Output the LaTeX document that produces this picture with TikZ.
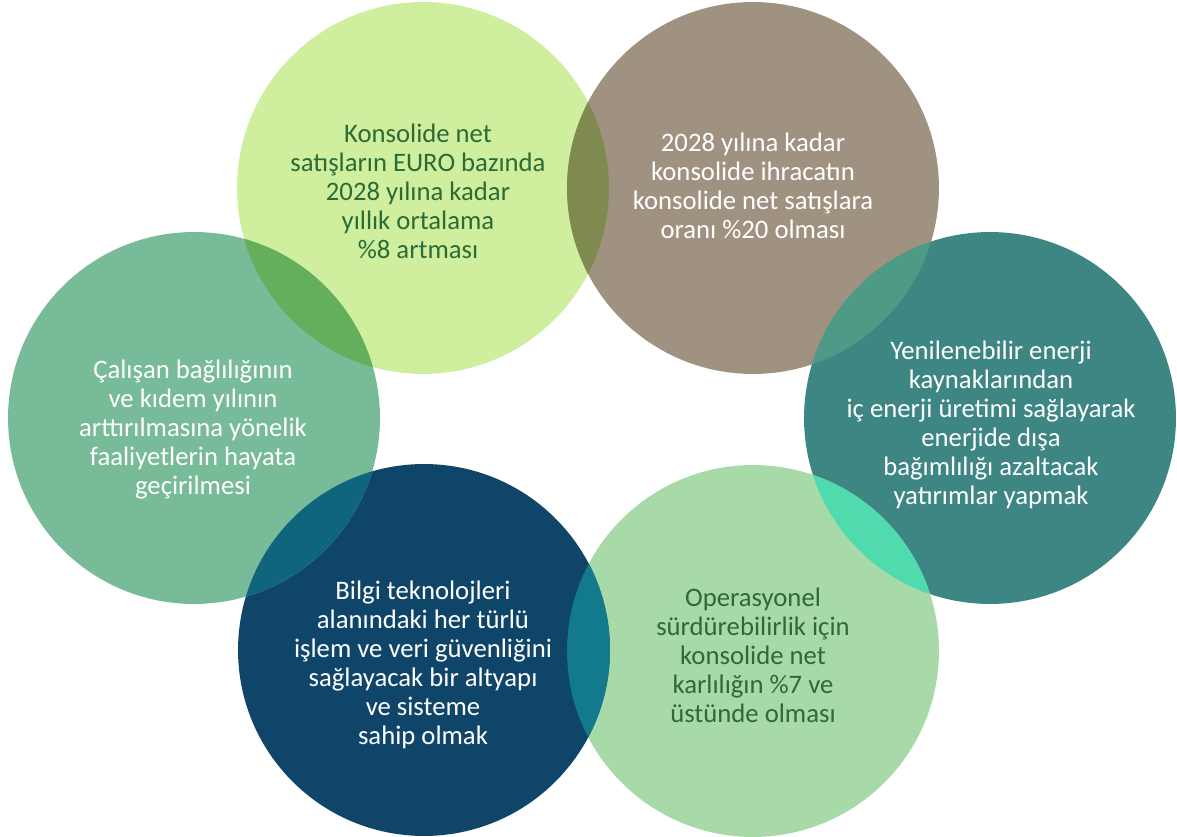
\documentclass[tikz,border=0pt]{standalone}
\usepackage{fontspec}
\setmainfont{Carlito}
\definecolor{cA}{HTML}{CFEE9E}
\definecolor{cB}{HTML}{A09280}
\definecolor{cC}{HTML}{3D8683}
\definecolor{cD}{HTML}{A8D9A8}
\definecolor{cE}{HTML}{10456A}
\definecolor{cF}{HTML}{78BB98}
\definecolor{oAB}{HTML}{7E8A4E}
\definecolor{oAF}{HTML}{63AF5B}
\definecolor{oBC}{HTML}{4D9A86}
\definecolor{oCD}{HTML}{4FDBAD}
\definecolor{oDE}{HTML}{13798C}
\definecolor{oEF}{HTML}{0F667C}
\definecolor{dgreen}{HTML}{2D6B35}
\begin{document}
\begin{tikzpicture}[x=0.02cm,y=-0.02cm,
  disc/.style={circle,minimum size=7.44cm,inner sep=0pt,fill=#1},
  lbl/.style={align=center,font=\fontsize{15.2}{16.5}\selectfont,text=#1,inner sep=0pt}]
\useasboundingbox (0,0) rectangle (1177,837);
\node[disc=cA] (c1) at (423,188) {};
\node[disc=cB] (c2) at (753,188) {};
\node[disc=cC] (c3) at (990,418) {};
\node[disc=cD] (c4) at (753,651) {};
\node[disc=cE] (c5) at (424,650) {};
\node[disc=cF] (c6) at (194,418) {};
% overlaps
\begin{scope}\clip (c1.center) circle[radius=3.72cm]; \fill[oAB] (c2.center) circle[radius=3.72cm];\end{scope}
\begin{scope}\clip (c1.center) circle[radius=3.72cm]; \fill[oAF] (c6.center) circle[radius=3.72cm];\end{scope}
\begin{scope}\clip (c2.center) circle[radius=3.72cm]; \fill[oBC] (c3.center) circle[radius=3.72cm];\end{scope}
\begin{scope}\clip (c3.center) circle[radius=3.72cm]; \fill[oCD] (c4.center) circle[radius=3.72cm];\end{scope}
\begin{scope}\clip (c4.center) circle[radius=3.72cm]; \fill[oDE] (c5.center) circle[radius=3.72cm];\end{scope}
\begin{scope}\clip (c5.center) circle[radius=3.72cm]; \fill[oEF] (c6.center) circle[radius=3.72cm];\end{scope}
% texts
\node[lbl=dgreen] (t1) at (418,191) {Konsolide net\\satışların EURO bazında\\2028 yılına kadar\\yıllık ortalama\\\%8 artması};
\node[lbl=white] (t2) at (753,186) {2028 yılına kadar\\konsolide ihracatın\\konsolide net satışlara\\oranı \%20 olması};
\node[lbl=white] (t3) at (991,425) {Yenilenebilir enerji\\kaynaklarından\\iç enerji üretimi sağlayarak\\enerjide dışa\\bağımlılığı azaltacak\\yatırımlar yapmak};
\node[lbl=dgreen] (t4) at (753,655) {Operasyonel\\sürdürebilirlik için\\konsolide net\\karlılığın \%7 ve\\üstünde olması};
\node[lbl=white] (t5) at (423,665) {Bilgi teknolojleri\\alanındaki her türlü\\işlem ve veri güvenliğini\\sağlayacak bir altyapı\\ve sisteme\\sahip olmak};
\node[lbl=white] (t6) at (193,430) {Çalışan bağlılığının\\ve kıdem yılının\\arttırılmasına yönelik\\faaliyetlerin hayata\\geçirilmesi};
\end{tikzpicture}
\end{document}
